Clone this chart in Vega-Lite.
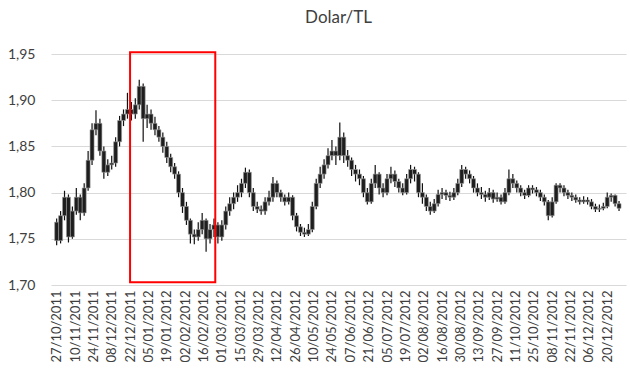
{
"$schema": "https://vega.github.io/schema/vega-lite/v6.json",
"width": 575,
"height": 231,
"autosize": {"type": "none"},
"padding": {"left": 51, "top": 54, "right": 4, "bottom": 95},
"background": "#ffffff",
"title": {"text": "Dolar/TL", "fontSize": 17, "font": "Lato", "fontWeight": "normal", "color": "#404040", "offset": 20, "frame": "group", "anchor": "middle"},
"config": {"view": {"stroke": null}, "font": "Lato"},
"datasets": {
"fx": [
{"d":"2011-10-27","o":1.768,"h":1.772,"l":1.743,"c":1.748},
{"d":"2011-10-30","o":1.748,"h":1.780,"l":1.745,"c":1.775},
{"d":"2011-11-02","o":1.775,"h":1.802,"l":1.770,"c":1.795},
{"d":"2011-11-05","o":1.795,"h":1.798,"l":1.746,"c":1.752},
{"d":"2011-11-08","o":1.752,"h":1.785,"l":1.750,"c":1.780},
{"d":"2011-11-11","o":1.780,"h":1.805,"l":1.776,"c":1.795},
{"d":"2011-11-14","o":1.795,"h":1.798,"l":1.770,"c":1.778},
{"d":"2011-11-17","o":1.778,"h":1.810,"l":1.775,"c":1.805},
{"d":"2011-11-20","o":1.805,"h":1.845,"l":1.802,"c":1.835},
{"d":"2011-11-23","o":1.835,"h":1.875,"l":1.830,"c":1.868},
{"d":"2011-11-26","o":1.868,"h":1.889,"l":1.862,"c":1.875},
{"d":"2011-11-29","o":1.875,"h":1.880,"l":1.840,"c":1.845},
{"d":"2011-12-02","o":1.845,"h":1.850,"l":1.815,"c":1.822},
{"d":"2011-12-05","o":1.822,"h":1.836,"l":1.818,"c":1.830},
{"d":"2011-12-08","o":1.830,"h":1.840,"l":1.825,"c":1.832},
{"d":"2011-12-11","o":1.832,"h":1.860,"l":1.828,"c":1.855},
{"d":"2011-12-14","o":1.855,"h":1.883,"l":1.850,"c":1.878},
{"d":"2011-12-17","o":1.878,"h":1.890,"l":1.872,"c":1.885},
{"d":"2011-12-20","o":1.885,"h":1.908,"l":1.880,"c":1.890},
{"d":"2011-12-23","o":1.890,"h":1.898,"l":1.878,"c":1.885},
{"d":"2011-12-26","o":1.885,"h":1.902,"l":1.880,"c":1.895},
{"d":"2011-12-29","o":1.895,"h":1.922,"l":1.890,"c":1.915},
{"d":"2012-01-01","o":1.915,"h":1.918,"l":1.855,"c":1.880},
{"d":"2012-01-04","o":1.880,"h":1.895,"l":1.870,"c":1.885},
{"d":"2012-01-07","o":1.885,"h":1.890,"l":1.868,"c":1.875},
{"d":"2012-01-10","o":1.875,"h":1.882,"l":1.862,"c":1.868},
{"d":"2012-01-13","o":1.868,"h":1.872,"l":1.855,"c":1.860},
{"d":"2012-01-16","o":1.860,"h":1.865,"l":1.843,"c":1.850},
{"d":"2012-01-19","o":1.850,"h":1.855,"l":1.832,"c":1.838},
{"d":"2012-01-22","o":1.838,"h":1.842,"l":1.822,"c":1.828},
{"d":"2012-01-25","o":1.828,"h":1.832,"l":1.815,"c":1.820},
{"d":"2012-01-28","o":1.820,"h":1.823,"l":1.795,"c":1.800},
{"d":"2012-01-31","o":1.800,"h":1.805,"l":1.778,"c":1.785},
{"d":"2012-02-03","o":1.785,"h":1.790,"l":1.765,"c":1.770},
{"d":"2012-02-06","o":1.770,"h":1.772,"l":1.745,"c":1.755},
{"d":"2012-02-09","o":1.755,"h":1.760,"l":1.744,"c":1.752},
{"d":"2012-02-12","o":1.752,"h":1.768,"l":1.748,"c":1.760},
{"d":"2012-02-15","o":1.760,"h":1.778,"l":1.755,"c":1.770},
{"d":"2012-02-18","o":1.770,"h":1.772,"l":1.736,"c":1.750},
{"d":"2012-02-21","o":1.750,"h":1.766,"l":1.745,"c":1.760},
{"d":"2012-02-24","o":1.760,"h":1.772,"l":1.752,"c":1.765},
{"d":"2012-02-27","o":1.765,"h":1.768,"l":1.745,"c":1.752},
{"d":"2012-03-01","o":1.752,"h":1.770,"l":1.748,"c":1.765},
{"d":"2012-03-04","o":1.765,"h":1.785,"l":1.760,"c":1.780},
{"d":"2012-03-07","o":1.780,"h":1.795,"l":1.775,"c":1.788},
{"d":"2012-03-10","o":1.788,"h":1.800,"l":1.782,"c":1.795},
{"d":"2012-03-13","o":1.795,"h":1.808,"l":1.790,"c":1.800},
{"d":"2012-03-16","o":1.800,"h":1.815,"l":1.795,"c":1.810},
{"d":"2012-03-19","o":1.810,"h":1.827,"l":1.805,"c":1.822},
{"d":"2012-03-22","o":1.822,"h":1.825,"l":1.795,"c":1.800},
{"d":"2012-03-25","o":1.800,"h":1.805,"l":1.780,"c":1.785},
{"d":"2012-03-28","o":1.785,"h":1.790,"l":1.778,"c":1.782},
{"d":"2012-03-31","o":1.782,"h":1.786,"l":1.776,"c":1.780},
{"d":"2012-04-03","o":1.780,"h":1.795,"l":1.776,"c":1.790},
{"d":"2012-04-06","o":1.790,"h":1.802,"l":1.786,"c":1.795},
{"d":"2012-04-09","o":1.795,"h":1.817,"l":1.790,"c":1.810},
{"d":"2012-04-12","o":1.810,"h":1.813,"l":1.795,"c":1.800},
{"d":"2012-04-15","o":1.800,"h":1.803,"l":1.790,"c":1.795},
{"d":"2012-04-18","o":1.795,"h":1.798,"l":1.786,"c":1.790},
{"d":"2012-04-21","o":1.790,"h":1.800,"l":1.787,"c":1.795},
{"d":"2012-04-24","o":1.795,"h":1.797,"l":1.770,"c":1.775},
{"d":"2012-04-27","o":1.775,"h":1.778,"l":1.758,"c":1.763},
{"d":"2012-04-30","o":1.763,"h":1.766,"l":1.753,"c":1.757},
{"d":"2012-05-03","o":1.757,"h":1.762,"l":1.752,"c":1.755},
{"d":"2012-05-06","o":1.755,"h":1.766,"l":1.753,"c":1.760},
{"d":"2012-05-09","o":1.760,"h":1.790,"l":1.757,"c":1.785},
{"d":"2012-05-12","o":1.785,"h":1.815,"l":1.782,"c":1.810},
{"d":"2012-05-15","o":1.810,"h":1.828,"l":1.805,"c":1.820},
{"d":"2012-05-18","o":1.820,"h":1.836,"l":1.815,"c":1.830},
{"d":"2012-05-21","o":1.830,"h":1.848,"l":1.826,"c":1.840},
{"d":"2012-05-24","o":1.840,"h":1.857,"l":1.835,"c":1.845},
{"d":"2012-05-27","o":1.845,"h":1.850,"l":1.830,"c":1.840},
{"d":"2012-05-30","o":1.840,"h":1.876,"l":1.835,"c":1.860},
{"d":"2012-06-02","o":1.860,"h":1.865,"l":1.832,"c":1.840},
{"d":"2012-06-05","o":1.840,"h":1.846,"l":1.828,"c":1.835},
{"d":"2012-06-08","o":1.835,"h":1.838,"l":1.818,"c":1.825},
{"d":"2012-06-11","o":1.825,"h":1.830,"l":1.812,"c":1.820},
{"d":"2012-06-14","o":1.820,"h":1.825,"l":1.808,"c":1.815},
{"d":"2012-06-17","o":1.815,"h":1.818,"l":1.795,"c":1.800},
{"d":"2012-06-20","o":1.800,"h":1.805,"l":1.787,"c":1.790},
{"d":"2012-06-23","o":1.790,"h":1.815,"l":1.788,"c":1.810},
{"d":"2012-06-26","o":1.810,"h":1.830,"l":1.805,"c":1.820},
{"d":"2012-06-29","o":1.820,"h":1.822,"l":1.798,"c":1.805},
{"d":"2012-07-02","o":1.805,"h":1.810,"l":1.795,"c":1.800},
{"d":"2012-07-05","o":1.800,"h":1.820,"l":1.797,"c":1.815},
{"d":"2012-07-08","o":1.815,"h":1.828,"l":1.810,"c":1.820},
{"d":"2012-07-11","o":1.820,"h":1.824,"l":1.806,"c":1.812},
{"d":"2012-07-14","o":1.812,"h":1.815,"l":1.800,"c":1.805},
{"d":"2012-07-17","o":1.805,"h":1.810,"l":1.797,"c":1.800},
{"d":"2012-07-20","o":1.800,"h":1.820,"l":1.798,"c":1.815},
{"d":"2012-07-23","o":1.815,"h":1.830,"l":1.810,"c":1.825},
{"d":"2012-07-26","o":1.825,"h":1.828,"l":1.812,"c":1.820},
{"d":"2012-07-29","o":1.820,"h":1.822,"l":1.795,"c":1.800},
{"d":"2012-08-01","o":1.800,"h":1.810,"l":1.788,"c":1.795},
{"d":"2012-08-04","o":1.795,"h":1.798,"l":1.780,"c":1.785},
{"d":"2012-08-07","o":1.785,"h":1.790,"l":1.776,"c":1.780},
{"d":"2012-08-10","o":1.780,"h":1.793,"l":1.778,"c":1.788},
{"d":"2012-08-13","o":1.788,"h":1.803,"l":1.785,"c":1.798},
{"d":"2012-08-16","o":1.798,"h":1.805,"l":1.793,"c":1.800},
{"d":"2012-08-19","o":1.800,"h":1.803,"l":1.792,"c":1.797},
{"d":"2012-08-22","o":1.797,"h":1.801,"l":1.791,"c":1.795},
{"d":"2012-08-25","o":1.795,"h":1.805,"l":1.792,"c":1.800},
{"d":"2012-08-28","o":1.800,"h":1.815,"l":1.797,"c":1.810},
{"d":"2012-08-31","o":1.810,"h":1.830,"l":1.806,"c":1.825},
{"d":"2012-09-03","o":1.825,"h":1.828,"l":1.815,"c":1.820},
{"d":"2012-09-06","o":1.820,"h":1.824,"l":1.810,"c":1.815},
{"d":"2012-09-09","o":1.815,"h":1.818,"l":1.800,"c":1.805},
{"d":"2012-09-12","o":1.805,"h":1.810,"l":1.796,"c":1.800},
{"d":"2012-09-15","o":1.800,"h":1.806,"l":1.793,"c":1.798},
{"d":"2012-09-18","o":1.798,"h":1.802,"l":1.790,"c":1.795},
{"d":"2012-09-21","o":1.795,"h":1.805,"l":1.792,"c":1.800},
{"d":"2012-09-24","o":1.800,"h":1.803,"l":1.789,"c":1.793},
{"d":"2012-09-27","o":1.793,"h":1.800,"l":1.790,"c":1.795},
{"d":"2012-09-30","o":1.795,"h":1.798,"l":1.787,"c":1.790},
{"d":"2012-10-03","o":1.790,"h":1.805,"l":1.788,"c":1.800},
{"d":"2012-10-06","o":1.800,"h":1.825,"l":1.797,"c":1.815},
{"d":"2012-10-09","o":1.815,"h":1.820,"l":1.805,"c":1.810},
{"d":"2012-10-12","o":1.810,"h":1.813,"l":1.800,"c":1.805},
{"d":"2012-10-15","o":1.805,"h":1.808,"l":1.796,"c":1.800},
{"d":"2012-10-18","o":1.800,"h":1.803,"l":1.793,"c":1.797},
{"d":"2012-10-21","o":1.797,"h":1.808,"l":1.795,"c":1.805},
{"d":"2012-10-24","o":1.805,"h":1.808,"l":1.799,"c":1.803},
{"d":"2012-10-27","o":1.803,"h":1.806,"l":1.796,"c":1.800},
{"d":"2012-10-30","o":1.800,"h":1.803,"l":1.791,"c":1.795},
{"d":"2012-11-02","o":1.795,"h":1.798,"l":1.786,"c":1.790},
{"d":"2012-11-05","o":1.790,"h":1.792,"l":1.770,"c":1.775},
{"d":"2012-11-08","o":1.775,"h":1.795,"l":1.773,"c":1.790},
{"d":"2012-11-11","o":1.790,"h":1.810,"l":1.788,"c":1.808},
{"d":"2012-11-14","o":1.808,"h":1.810,"l":1.800,"c":1.805},
{"d":"2012-11-17","o":1.805,"h":1.808,"l":1.796,"c":1.800},
{"d":"2012-11-20","o":1.800,"h":1.803,"l":1.793,"c":1.797},
{"d":"2012-11-23","o":1.797,"h":1.800,"l":1.791,"c":1.795},
{"d":"2012-11-26","o":1.795,"h":1.798,"l":1.789,"c":1.792},
{"d":"2012-11-29","o":1.792,"h":1.795,"l":1.787,"c":1.790},
{"d":"2012-12-02","o":1.790,"h":1.796,"l":1.788,"c":1.792},
{"d":"2012-12-05","o":1.792,"h":1.795,"l":1.787,"c":1.790},
{"d":"2012-12-08","o":1.790,"h":1.793,"l":1.782,"c":1.785},
{"d":"2012-12-11","o":1.785,"h":1.788,"l":1.779,"c":1.782},
{"d":"2012-12-14","o":1.782,"h":1.787,"l":1.779,"c":1.783},
{"d":"2012-12-17","o":1.783,"h":1.789,"l":1.781,"c":1.785},
{"d":"2012-12-20","o":1.785,"h":1.800,"l":1.783,"c":1.795},
{"d":"2012-12-23","o":1.795,"h":1.799,"l":1.790,"c":1.797},
{"d":"2012-12-26","o":1.797,"h":1.798,"l":1.785,"c":1.788},
{"d":"2012-12-29","o":1.788,"h":1.791,"l":1.780,"c":1.783}
],
"box": [{"s":"2011-12-22","e":"2012-02-25","lo":1.703,"hi":1.952}]
},
"layer": [
{
"data": {"name": "fx"},
"mark": {"type": "rule", "color": "#111111", "strokeWidth": 1.2},
"encoding": {
"x": {"field": "d", "type": "temporal",
"scale": {"type": "utc", "nice": false, "domain": [{"year": 2011, "month": 10, "date": 26, "hours": 12, "utc": true}, {"year": 2012, "month": 12, "date": 30, "hours": 12, "utc": true}]},
"axis": {"title": null, "grid": false, "ticks": false, "domain": false, "format": "%d/%m/%Y", "labelAngle": -90, "labelFontSize": 13, "labelColor": "#404040", "labelPadding": 5, "labelOverlap": false, "labelFlush": false, "labelBound": false, "tickCount": 200,
"values": [
{"year":2011,"month":10,"date":27,"utc":true},{"year":2011,"month":11,"date":10,"utc":true},{"year":2011,"month":11,"date":24,"utc":true},{"year":2011,"month":12,"date":8,"utc":true},{"year":2011,"month":12,"date":22,"utc":true},
{"year":2012,"month":1,"date":5,"utc":true},{"year":2012,"month":1,"date":19,"utc":true},{"year":2012,"month":2,"date":2,"utc":true},{"year":2012,"month":2,"date":16,"utc":true},{"year":2012,"month":3,"date":1,"utc":true},
{"year":2012,"month":3,"date":15,"utc":true},{"year":2012,"month":3,"date":29,"utc":true},{"year":2012,"month":4,"date":12,"utc":true},{"year":2012,"month":4,"date":26,"utc":true},{"year":2012,"month":5,"date":10,"utc":true},
{"year":2012,"month":5,"date":24,"utc":true},{"year":2012,"month":6,"date":7,"utc":true},{"year":2012,"month":6,"date":21,"utc":true},{"year":2012,"month":7,"date":5,"utc":true},{"year":2012,"month":7,"date":19,"utc":true},
{"year":2012,"month":8,"date":2,"utc":true},{"year":2012,"month":8,"date":16,"utc":true},{"year":2012,"month":8,"date":30,"utc":true},{"year":2012,"month":9,"date":13,"utc":true},{"year":2012,"month":9,"date":27,"utc":true},
{"year":2012,"month":10,"date":11,"utc":true},{"year":2012,"month":10,"date":25,"utc":true},{"year":2012,"month":11,"date":8,"utc":true},{"year":2012,"month":11,"date":22,"utc":true},{"year":2012,"month":12,"date":6,"utc":true},
{"year":2012,"month":12,"date":20,"utc":true}
]}
},
"y": {"field": "l", "type": "quantitative",
"scale": {"domain": [1.7, 1.95], "nice": false, "zero": false},
"axis": {"title": null, "values": [1.7, 1.75, 1.8, 1.85, 1.9, 1.95], "labelExpr": "replace(format(datum.value, '.2f'), '.', ',')", "grid": true, "gridColor": "#d9d9d9", "gridWidth": 1, "domain": false, "ticks": false, "labelPadding": 16, "labelFontSize": 14, "labelColor": "#404040"}
},
"y2": {"field": "h"}
}
},
{
"data": {"name": "fx"},
"mark": {"type": "bar", "size": 4, "fill": "#1e1e1e", "stroke": "#9a9a9a", "strokeWidth": 0.6},
"encoding": {
"x": {"field": "d", "type": "temporal"},
"y": {"field": "o", "type": "quantitative"},
"y2": {"field": "c"}
}
},
{
"data": {"name": "box"},
"mark": {"type": "rect", "fill": "transparent", "stroke": "#ff0000", "strokeWidth": 2},
"encoding": {
"x": {"field": "s", "type": "temporal"},
"x2": {"field": "e"},
"y": {"field": "lo", "type": "quantitative"},
"y2": {"field": "hi"}
}
}
]
}
